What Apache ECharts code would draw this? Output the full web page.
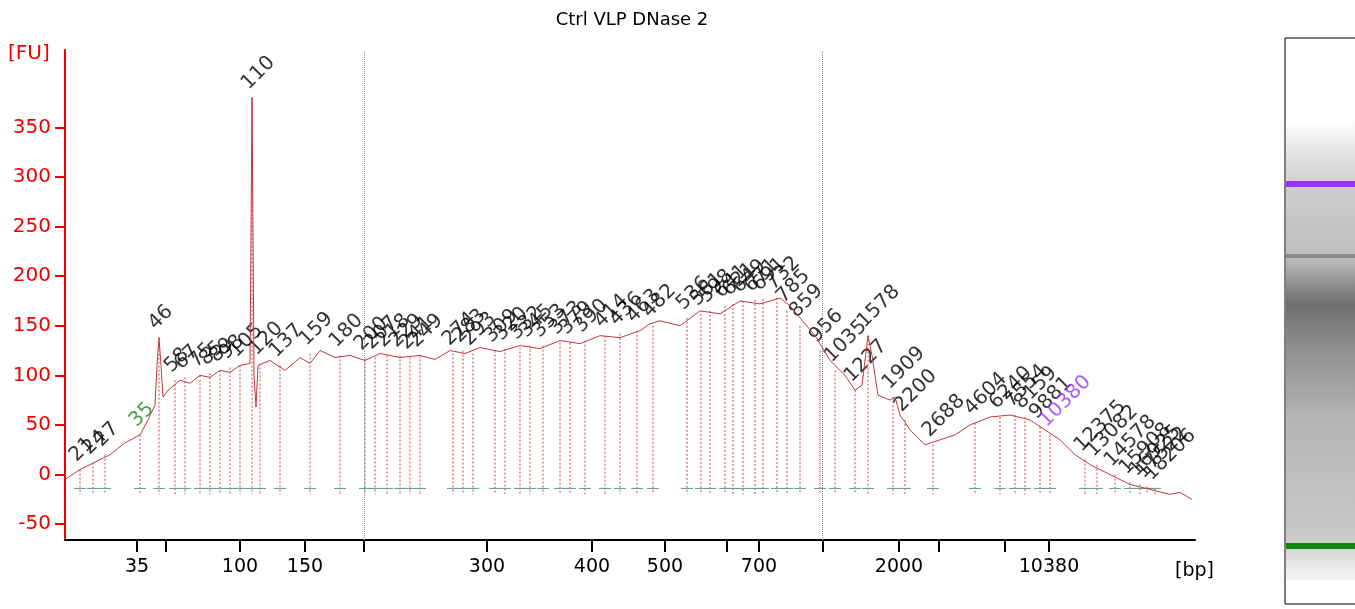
<!DOCTYPE html>
<html><head><meta charset="utf-8">
<script src="https://cdn.jsdelivr.net/npm/echarts@6/dist/echarts.min.js"></script>
<style>body{margin:0;background:#fff}#chart{width:1355px;height:609px}</style>
</head><body><div id="chart"></div>
<script>
// trace: run position (0..1130) and fluorescence [FU]
var traceX = [0,15,35,45,60,75,83,90,92,94,96,98,103,115,125,135,145,155,165,175,185,187,189,191,193,205,220,235,245,255,270,285,300,315,335,355,370,385,400,415,435,455,475,495,515,535,555,575,585,595,615,635,655,675,695,715,725,735,750,765,780,790,797,803,807,813,825,830,835,845,860,875,890,905,925,945,965,980,995,1010,1025,1045,1065,1085,1105,1115,1127];
var traceY = [-5,5,15,20,32,40,55,70,110,138,110,78,85,95,92,100,98,105,103,110,112,380,100,68,110,115,105,118,112,125,118,120,115,122,118,120,116,125,122,128,124,130,127,135,132,140,138,145,152,155,150,165,162,175,172,178,170,158,140,115,100,85,90,140,120,80,75,78,60,45,30,35,40,50,58,60,55,45,35,20,10,0,-10,-15,-20,-18,-25];
// labelled peaks: position, size label, FU
var peakX = [15,28,40,75,94,110,120,135,145,155,165,175,187,195,215,245,275,300,310,322,335,345,355,388,398,408,430,440,455,465,478,495,505,520,540,555,572,588,622,636,645,660,668,678,690,698,712,722,735,755,770,790,803,828,840,868,910,935,950,960,975,985,1020,1032,1050,1065,1075,1082,1090];
var peakLbl = ['21','24','27','35','46','58','67','75','85','89','98','105','110','120','137','159','180','200','207','218','229','241','249','274','283','293','309','320','332','345','353','373','379','390','414','436','463','482','536','561','598','641','621','649','671','691','732','785','859','956','1035','1227','1578','1909','2200','2688','4604','6240','7554','8159','9881','10380','12375','13082','14578','15908','16925','17522','18206'];
var peakY = [5,12,20,40,138,95,98,100,102,105,108,110,380,112,110,122,120,117,118,120,120,118,120,122,125,122,125,127,128,130,130,133,133,135,140,142,145,150,158,162,165,170,172,175,176,177,178,165,150,125,105,85,140,78,55,30,52,58,60,58,48,40,15,10,0,-8,-10,-12,-14];
var markers = {'35':'#1a8a1a','10380':'#9933ff'};
var tickPos = [72,101,175,240,299,422,527,600,662,694,758,834,874,940,984];
var tickLbl = ['35','','100','150','','300','400','500','','700','','2000','','','10380'];

var trace = traceX.map(function(x,i){return [x, traceY[i]];});
var peaks = peakX.map(function(x,i){
  return {value:[x, peakY[i]], label:{color: markers[peakLbl[i]] || '#000', formatter: peakLbl[i]}};
});
var chart = echarts.init(document.getElementById('chart'));
chart.setOption({
  animation:false,
  title:{text:'Ctrl VLP DNase 2',left:627,top:6,textAlign:'center',textStyle:{fontFamily:'DejaVu Sans',fontSize:18,fontWeight:'normal',color:'#000'}},
  grid:{left:65,right:160,top:50,bottom:69},
  xAxis:{type:'value',min:0,max:1130,splitLine:{show:false},
    axisLine:{onZero:false,lineStyle:{color:'#000',width:2}},
    axisTick:{customValues:tickPos,length:12,lineStyle:{color:'#000',width:2}},
    axisLabel:{customValues:tickPos,color:'#000',fontSize:19,fontFamily:'DejaVu Sans',margin:18,
      formatter:function(v){var i=tickPos.indexOf(v);return i<0?'':tickLbl[i];}}},
  yAxis:{type:'value',min:-66,max:428,splitLine:{show:false},
    axisLine:{show:true,lineStyle:{color:'#e00',width:2}},
    axisTick:{show:true,customValues:[-50,0,50,100,150,200,250,300,350],length:10,lineStyle:{color:'#e00',width:2}},
    axisLabel:{customValues:[-50,0,50,100,150,200,250,300,350],color:'#e00',fontSize:20,fontFamily:'DejaVu Sans',margin:14}},
  graphic:[
    {type:'text',left:8,top:44,style:{text:'[FU]',fill:'#e00',fontSize:20,fontFamily:'DejaVu Sans'}},
    {type:'text',left:1175,top:562,style:{text:'[bp]',fill:'#000',fontSize:19,fontFamily:'DejaVu Sans'}},
    {type:'rect',shape:{x:1285,y:38,width:80,height:566},style:{fill:'#fff',stroke:'#000',lineWidth:1}},
    {type:'rect',shape:{x:1286,y:120,width:69,height:460},style:{fill:new echarts.graphic.LinearGradient(0,0,0,1,[
      {offset:0,color:'#fff'},{offset:0.08,color:'#e0e0e0'},{offset:0.14,color:'#cfcfcf'},{offset:0.3,color:'#bdbdbd'},
      {offset:0.4,color:'#6e6e6e'},{offset:0.5,color:'#909090'},{offset:0.65,color:'#b5b5b5'},{offset:0.9,color:'#c8c8c8'},{offset:1,color:'#f5f5f5'}])}},
    {type:'rect',shape:{x:1286,y:181,width:69,height:6},style:{fill:'#9933ff'}},
    {type:'rect',shape:{x:1286,y:254,width:69,height:4},style:{fill:'#8a8a8a'}},
    {type:'rect',shape:{x:1286,y:543,width:69,height:6},style:{fill:'#118811'}}
  ],
  series:[
    {type:'line',data:trace,symbol:'none',lineStyle:{color:'#c0393b',width:1},
      markLine:{silent:true,symbol:'none',label:{show:false},lineStyle:{color:'#8888aa',type:'dotted',width:1},data:[{xAxis:299},{xAxis:757}]}},
    {type:'custom',data:peakX.map(function(x,i){return [x,peakY[i]];}),
      renderItem:function(p,api){
        var a=api.coord([api.value(0),api.value(1)]), b=api.coord([api.value(0),-20]);
        var c=api.coord([api.value(0)-6,-14]), d=api.coord([api.value(0)+6,-14]);
        return {type:'group',children:[
          {type:'line',shape:{x1:a[0],y1:a[1],x2:b[0],y2:b[1]},style:{stroke:'#d04040',lineDash:[2,2],lineWidth:1}},
          {type:'line',shape:{x1:c[0],y1:c[1],x2:d[0],y2:d[1]},style:{stroke:'#5a9a8a',lineWidth:1}}]};
      }},
    {type:'scatter',data:peaks,symbolSize:0,
      label:{show:true,position:'top',rotate:45,align:'left',distance:4,fontSize:20,fontFamily:'DejaVu Sans'}}
  ]
});
</script></body></html>
